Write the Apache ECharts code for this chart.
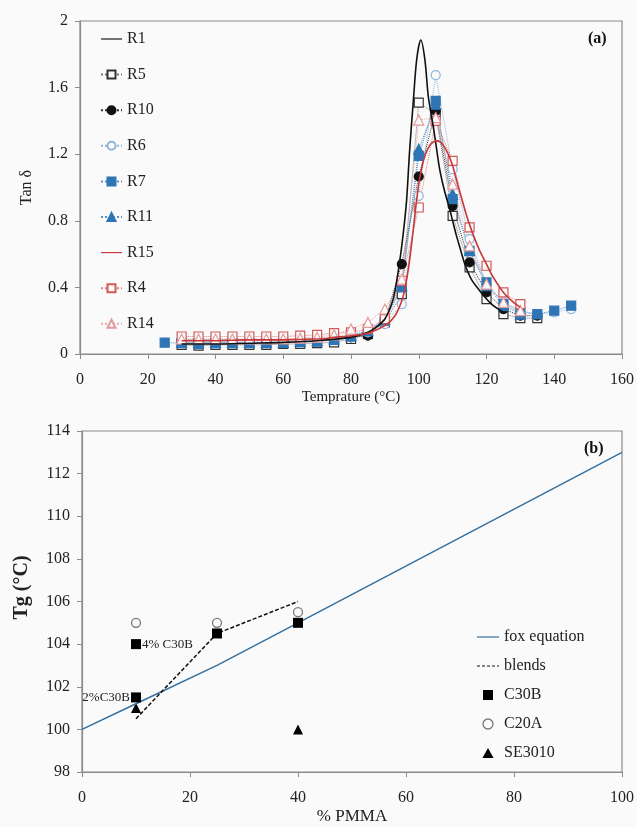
<!DOCTYPE html>
<html>
<head>
<meta charset="utf-8">
<script src="https://cdn.jsdelivr.net/npm/echarts/dist/echarts.min.js"></script>
<style>
  html, body { margin: 0; padding: 0; background: #fafafa; }
  #chart { width: 637px; height: 827px; }
</style>
</head>
<body>
<div id="chart"></div>
<script>
// ---- panel (a): tan delta vs temperature ----
const temp30to135 = [30, 35, 40, 45, 50, 55, 60, 65, 70, 75, 80, 85, 90, 95, 100, 105, 110, 115, 120, 125, 130, 135];
const temp30to130 = [30, 35, 40, 45, 50, 55, 60, 65, 70, 75, 80, 85, 90, 95, 100, 105, 110, 115, 120, 125, 130];
const temp30to145 = [30, 35, 40, 45, 50, 55, 60, 65, 70, 75, 80, 85, 90, 95, 100, 105, 110, 115, 120, 125, 130, 135, 140, 145];
const temp25to145 = [25, 30, 35, 40, 45, 50, 55, 60, 65, 70, 75, 80, 85, 90, 95, 100, 105, 110, 115, 120, 125, 130, 135, 140, 145];

const r5 = [0.055, 0.05, 0.055, 0.055, 0.055, 0.055, 0.06, 0.06, 0.065, 0.07, 0.09, 0.12, 0.19, 0.36, 1.51, 1.44, 0.83, 0.52, 0.33, 0.24, 0.215, 0.215];
const r10 = [0.085, 0.085, 0.085, 0.085, 0.085, 0.085, 0.085, 0.09, 0.09, 0.095, 0.1, 0.11, 0.2, 0.54, 1.066, 1.46, 0.89, 0.55, 0.37, 0.27, 0.23, 0.23];
const r6 = [0.07, 0.07, 0.07, 0.07, 0.07, 0.07, 0.07, 0.075, 0.08, 0.085, 0.1, 0.13, 0.18, 0.30, 0.95, 1.675, 1.11, 0.69, 0.42, 0.31, 0.26, 0.24, 0.25, 0.27];
const r7 = [0.068, 0.065, 0.06, 0.065, 0.065, 0.065, 0.065, 0.067, 0.07, 0.074, 0.084, 0.105, 0.14, 0.2, 0.40, 1.19, 1.52, 0.93, 0.62, 0.43, 0.30, 0.25, 0.24, 0.26, 0.29];
const r11 = [0.07, 0.07, 0.07, 0.07, 0.07, 0.07, 0.07, 0.075, 0.08, 0.09, 0.11, 0.14, 0.21, 0.41, 1.23, 1.5, 0.96, 0.62, 0.41, 0.29, 0.24];
const r4 = [0.105, 0.105, 0.105, 0.105, 0.105, 0.105, 0.105, 0.11, 0.115, 0.125, 0.13, 0.15, 0.21, 0.44, 0.88, 1.40, 1.16, 0.76, 0.53, 0.37, 0.30];
const r14 = [0.09, 0.09, 0.09, 0.09, 0.09, 0.09, 0.09, 0.095, 0.1, 0.115, 0.15, 0.19, 0.27, 0.45, 1.405, 1.42, 1.02, 0.65, 0.42, 0.31, 0.26];

// fitted curves R1 and R15
const r1Temp = [30, 40, 50, 60, 70, 80, 85, 88, 90, 92, 93, 94.4, 95.4, 96.4, 97.3, 98.4, 99.4, 100.6, 101.8, 102.8, 104, 105, 106, 107, 108, 109, 110, 111, 112, 113.6, 115.5, 118, 120, 122, 125];
const r1Tan = [0.06, 0.06, 0.065, 0.07, 0.08, 0.1, 0.13, 0.17, 0.21, 0.3, 0.38, 0.56, 0.72, 0.92, 1.22, 1.52, 1.77, 1.886, 1.77, 1.55, 1.4, 1.27, 1.13, 1.03, 0.95, 0.88, 0.8, 0.72, 0.65, 0.54, 0.45, 0.38, 0.33, 0.29, 0.25];
const r15Temp = [30, 40, 50, 60, 70, 75, 80, 85, 90, 93, 95, 96, 97, 98, 99, 100, 101, 102, 103.5, 105.5, 107, 108.5, 110, 112, 114, 116, 118, 120, 122, 125, 128, 130];
const r15Tan = [0.08, 0.08, 0.085, 0.085, 0.09, 0.1, 0.11, 0.125, 0.17, 0.23, 0.32, 0.4, 0.52, 0.68, 0.86, 1.02, 1.13, 1.2, 1.26, 1.28, 1.26, 1.21, 1.13, 0.98, 0.84, 0.72, 0.62, 0.54, 0.46, 0.37, 0.31, 0.28];

// ---- panel (b): Tg vs %PMMA ----
const foxX = [0, 10, 25, 40, 100];
const foxY = [100, 101.2, 103, 105, 113];
const blendsX = [10, 25, 40];
const blendsY = [100.5, 104.5, 106];
const c30bX = [10, 10, 25, 40];
const c30bY = [104, 101.5, 104.5, 105];
const c30bNotes = ['4% C30B', '2%C30B', '', ''];
const c20aX = [10, 25, 40];
const c20aY = [105, 105, 105.5];
const se3010X = [10, 40];
const se3010Y = [101, 100];

const zip = (xs, ys) => xs.map((x, i) => [x, ys[i]]);

const serif = 'Liberation Serif';
const axisGray = '#8a8a8a';

// legend icons
const solidIcon = 'path://M0,0 L22,0 L22,1.2 L0,1.2 Z';
const dashIcon = 'path://M0,0 L3,0 L3,1.2 L0,1.2 Z M5,0 L8,0 L8,1.2 L5,1.2 Z M10,0 L13,0 L13,1.2 L10,1.2 Z M15,0 L18,0 L18,1.2 L15,1.2 Z M20,0 L22,0 L22,1.2 L20,1.2 Z';
const squareIcon = 'path://M0,0 L10,0 L10,10 L0,10 Z';
const triIcon = 'path://M5,0 L10,9 L0,9 Z';

const chart = echarts.init(document.getElementById('chart'));

const markerSeries = (name, xs, ys, color, lineColor, symbol, size, filled) => ({
  name: name,
  type: 'line',
  xAxisIndex: 0,
  yAxisIndex: 0,
  data: zip(xs, ys),
  symbol: symbol,
  symbolSize: size,
  showAllSymbol: true,
  itemStyle: {
    color: filled ? color : '#fafafa',
    borderColor: color,
    borderWidth: 1.2
  },
  lineStyle: { color: lineColor, width: 1, type: 'dotted' },
  z: 3
});

const axisCommon = {
  axisLine: { show: true, lineStyle: { color: axisGray, width: 1.2 } },
  axisTick: { show: true, inside: false, length: 5, lineStyle: { color: axisGray } },
  splitLine: { show: false },
  axisLabel: { color: '#222', fontFamily: serif, fontSize: 16 }
};

const option = {
  backgroundColor: '#fafafa',
  animation: false,
  grid: [
    { left: 80, right: 15, top: 21, height: 333, show: true, borderColor: axisGray, borderWidth: 1.2, backgroundColor: 'transparent' },
    { left: 82, right: 15, top: 431, height: 341, show: true, borderColor: axisGray, borderWidth: 1.2, backgroundColor: 'transparent' }
  ],
  xAxis: [
    Object.assign({}, axisCommon, {
      gridIndex: 0, type: 'value', min: 0, max: 160, interval: 20,
      name: 'Temprature (°C)', nameLocation: 'middle', nameGap: 36,
      nameTextStyle: { color: '#222', fontFamily: serif, fontSize: 15 },
      axisLabel: { color: '#222', fontFamily: serif, fontSize: 16, margin: 18 }
    }),
    Object.assign({}, axisCommon, {
      gridIndex: 1, type: 'value', min: 0, max: 100, interval: 20,
      name: '% PMMA', nameLocation: 'middle', nameGap: 36,
      nameTextStyle: { color: '#222', fontFamily: serif, fontSize: 17 },
      axisLabel: { color: '#222', fontFamily: serif, fontSize: 16, margin: 18 }
    })
  ],
  yAxis: [
    Object.assign({}, axisCommon, {
      gridIndex: 0, type: 'value', min: 0, max: 2, interval: 0.4,
      name: 'Tan δ', nameLocation: 'middle', nameGap: 45, nameRotate: 90,
      nameTextStyle: { color: '#222', fontFamily: serif, fontSize: 16 },
      axisLabel: { color: '#222', fontFamily: serif, fontSize: 16, margin: 12 }
    }),
    Object.assign({}, axisCommon, {
      gridIndex: 1, type: 'value', min: 98, max: 114, interval: 2,
      name: 'Tg (°C)', nameLocation: 'middle', nameGap: 50, nameRotate: 90,
      nameTextStyle: { color: '#222', fontFamily: serif, fontSize: 20, fontWeight: 'bold', padding: [0, 0, 0, 28] },
      axisLabel: { color: '#222', fontFamily: serif, fontSize: 16, margin: 12 }
    })
  ],
  legend: [
    {
      orient: 'vertical', left: 100, top: 31, padding: 0, itemGap: 19.6, itemWidth: 21, itemHeight: 10,
      textStyle: { color: '#222', fontFamily: serif, fontSize: 16 },
      data: [
        { name: 'R1', icon: solidIcon, itemStyle: { color: '#111' } },
        'R5', 'R10', 'R6', 'R7', 'R11',
        { name: 'R15', icon: solidIcon, itemStyle: { color: '#c8383a' } },
        'R4', 'R14'
      ]
    },
    {
      orient: 'vertical', left: 477, top: 629, padding: 0, itemGap: 13, itemWidth: 22, itemHeight: 10,
      textStyle: { color: '#222', fontFamily: serif, fontSize: 16 },
      data: [
        { name: 'fox equation', icon: solidIcon, itemStyle: { color: '#35709f' } },
        { name: 'blends', icon: dashIcon, itemStyle: { color: '#111' } },
        { name: 'C30B', icon: squareIcon, itemStyle: { color: '#000', opacity: 1 } },
        { name: 'C20A', icon: 'circle', itemStyle: { color: '#fafafa', borderColor: '#777', borderWidth: 1.3, opacity: 1 } },
        { name: 'SE3010', icon: triIcon, itemStyle: { color: '#000', opacity: 1 } }
      ]
    }
  ],
  graphic: [
    { type: 'text', left: 588, top: 31, style: { text: '(a)', font: 'bold 16px "Liberation Serif"', fill: '#111' } },
    { type: 'text', left: 584, top: 441, style: { text: '(b)', font: 'bold 16px "Liberation Serif"', fill: '#111' } }
  ],
  series: [
    markerSeries('R5', temp30to135, r5, '#333333', '#777777', 'rect', 9, false),
    markerSeries('R10', temp30to135, r10, '#111111', '#333333', 'circle', 9, true),
    markerSeries('R6', temp30to145, r6, '#8fb4d9', '#8fb4d9', 'circle', 9, false),
    markerSeries('R7', temp25to145, r7, '#2e75b6', '#5b8fc4', 'rect', 9, true),
    markerSeries('R11', temp30to130, r11, '#2e75b6', '#5b8fc4', 'triangle', 10, true),
    markerSeries('R4', temp30to130, r4, '#d05a5a', '#d98080', 'rect', 9, false),
    markerSeries('R14', temp30to130, r14, '#e39a9a', '#e8a8a8', 'triangle', 10, false),
    {
      name: 'R1', type: 'line', xAxisIndex: 0, yAxisIndex: 0,
      data: zip(r1Temp, r1Tan), smooth: 0.3, symbol: 'none',
      itemStyle: { color: '#111' }, lineStyle: { color: '#111', width: 1.6 }, z: 4
    },
    {
      name: 'R15', type: 'line', xAxisIndex: 0, yAxisIndex: 0,
      data: zip(r15Temp, r15Tan), smooth: 0.3, symbol: 'none',
      itemStyle: { color: '#c8383a' }, lineStyle: { color: '#c8383a', width: 1.6 }, z: 4
    },
    {
      name: 'fox equation', type: 'line', xAxisIndex: 1, yAxisIndex: 1,
      data: zip(foxX, foxY), symbol: 'none',
      itemStyle: { color: '#35709f' }, lineStyle: { color: '#35709f', width: 1.5 }
    },
    {
      name: 'blends', type: 'line', xAxisIndex: 1, yAxisIndex: 1,
      data: zip(blendsX, blendsY), symbol: 'none',
      itemStyle: { color: '#111' }, lineStyle: { color: '#111', width: 1.5, type: [4, 2] }
    },
    {
      name: 'C30B', type: 'scatter', xAxisIndex: 1, yAxisIndex: 1,
      symbol: 'rect', symbolSize: 10,
      itemStyle: { color: '#000', opacity: 1 },
      data: c30bX.map((x, i) => ({
        value: [x, c30bY[i]],
        label: {
          show: c30bNotes[i] !== '',
          formatter: c30bNotes[i],
          position: i === 1 ? 'left' : 'right',
          distance: 1,
          color: '#222', fontFamily: serif, fontSize: 13
        }
      })),
      z: 5
    },
    {
      name: 'C20A', type: 'scatter', xAxisIndex: 1, yAxisIndex: 1,
      symbol: 'circle', symbolSize: 9,
      itemStyle: { color: '#fafafa', borderColor: '#777', borderWidth: 1.3, opacity: 1 },
      data: zip(c20aX, c20aY)
    },
    {
      name: 'SE3010', type: 'scatter', xAxisIndex: 1, yAxisIndex: 1,
      symbol: 'triangle', symbolSize: 10,
      itemStyle: { color: '#000', opacity: 1 },
      data: zip(se3010X, se3010Y)
    }
  ]
};

chart.setOption(option);
</script>
</body>
</html>
